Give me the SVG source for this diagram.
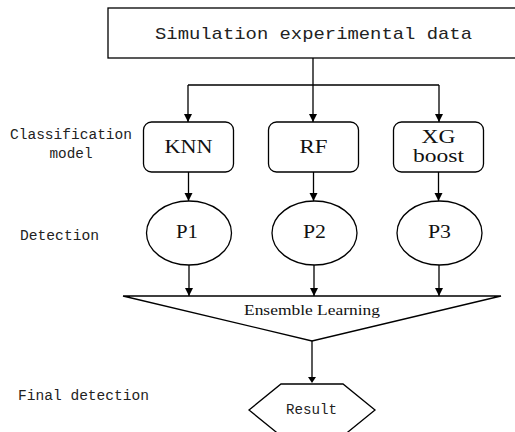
<svg xmlns="http://www.w3.org/2000/svg" width="515" height="432" viewBox="0 0 515 432">
<defs>
<marker id="ah" viewBox="0 0 10 10" refX="10" refY="5" markerWidth="8" markerHeight="9" markerUnits="userSpaceOnUse" orient="auto"><path d="M0,0 L10,5 L0,10 Z" fill="#000"/></marker>
<style>
.sh{fill:#fff;stroke:#000;stroke-width:1.3}
.mono{font-family:"Liberation Mono","DejaVu Sans Mono",monospace;fill:#222}
.serif{font-family:"Liberation Serif","Times New Roman",serif;fill:#111}
.ln{fill:none;stroke:#000;stroke-width:1.3}
</style>
</defs>
<rect width="515" height="432" fill="#fff"/>
<g id="labels">
<text class="mono" x="71" y="139" font-size="14" text-anchor="middle" textLength="122" lengthAdjust="spacingAndGlyphs">Classification</text>
<text class="mono" x="71" y="158" font-size="14" text-anchor="middle" textLength="43" lengthAdjust="spacingAndGlyphs">model</text>
<text class="mono" x="20" y="240" font-size="14" textLength="79" lengthAdjust="spacingAndGlyphs">Detection</text>
<text class="mono" x="18" y="400" font-size="14" textLength="131" lengthAdjust="spacingAndGlyphs">Final detection</text>
</g>
<g id="connectors">
<path class="ln" d="M313,58 V85 M188,85 H439"/>
<path class="ln" d="M188,85 V122" marker-end="url(#ah)"/>
<path class="ln" d="M313,85 V122" marker-end="url(#ah)"/>
<path class="ln" d="M439,85 V122" marker-end="url(#ah)"/>
<path class="ln" d="M188.5,172 V201" marker-end="url(#ah)"/>
<path class="ln" d="M313.5,172 V201" marker-end="url(#ah)"/>
<path class="ln" d="M438.5,172 V201" marker-end="url(#ah)"/>
<path class="ln" d="M189,265 V296" marker-end="url(#ah)"/>
<path class="ln" d="M314,265 V296" marker-end="url(#ah)"/>
<path class="ln" d="M439,265 V296" marker-end="url(#ah)"/>
<path class="ln" d="M312,341 V378"/>
<path d="M308,377 H316 L312,383 Z" fill="#000"/>
</g>
<g id="data">
<rect class="sh" x="108" y="8" width="420" height="50"/>
<text class="mono" x="155" y="39" font-size="17" textLength="317" lengthAdjust="spacingAndGlyphs">Simulation experimental data</text>
</g>
<g id="knn">
<rect class="sh" x="143.5" y="122" width="90" height="50" rx="8"/>
<text class="serif" x="188.5" y="153" font-size="18" text-anchor="middle" textLength="48" lengthAdjust="spacingAndGlyphs">KNN</text>
</g>
<g id="rf">
<rect class="sh" x="268.5" y="122" width="90" height="50" rx="8"/>
<text class="serif" x="313.5" y="153" font-size="18" text-anchor="middle" textLength="28" lengthAdjust="spacingAndGlyphs">RF</text>
</g>
<g id="xgboost">
<rect class="sh" x="393.5" y="122" width="90" height="50" rx="8"/>
<text class="serif" x="438.5" y="143" font-size="18" text-anchor="middle" textLength="34" lengthAdjust="spacingAndGlyphs">XG</text>
<text class="serif" x="438.5" y="162" font-size="18" text-anchor="middle" textLength="51" lengthAdjust="spacingAndGlyphs">boost</text>
</g>
<g id="p1">
<ellipse class="sh" cx="189" cy="233" rx="42.5" ry="32"/>
<text class="serif" x="187" y="238" font-size="18" text-anchor="middle" textLength="22" lengthAdjust="spacingAndGlyphs">P1</text>
</g>
<g id="p2">
<ellipse class="sh" cx="314.5" cy="233" rx="42.5" ry="32"/>
<text class="serif" x="314.5" y="238" font-size="18" text-anchor="middle" textLength="23" lengthAdjust="spacingAndGlyphs">P2</text>
</g>
<g id="p3">
<ellipse class="sh" cx="439.5" cy="233" rx="42.5" ry="32"/>
<text class="serif" x="439.5" y="238" font-size="18" text-anchor="middle" textLength="23" lengthAdjust="spacingAndGlyphs">P3</text>
</g>
<g id="ensemble">
<path class="sh" d="M123,296 H501 L312,341 Z" stroke-linejoin="miter"/>
<text class="serif" x="312" y="315" font-size="15" text-anchor="middle" textLength="136" lengthAdjust="spacingAndGlyphs">Ensemble Learning</text>
</g>
<g id="result">
<path class="sh" d="M281,384 H343 L375,410 L343,436 H281 L249,410 Z"/>
<text class="mono" x="311.5" y="414" font-size="14" text-anchor="middle" textLength="51" lengthAdjust="spacingAndGlyphs">Result</text>
</g>
</svg>
